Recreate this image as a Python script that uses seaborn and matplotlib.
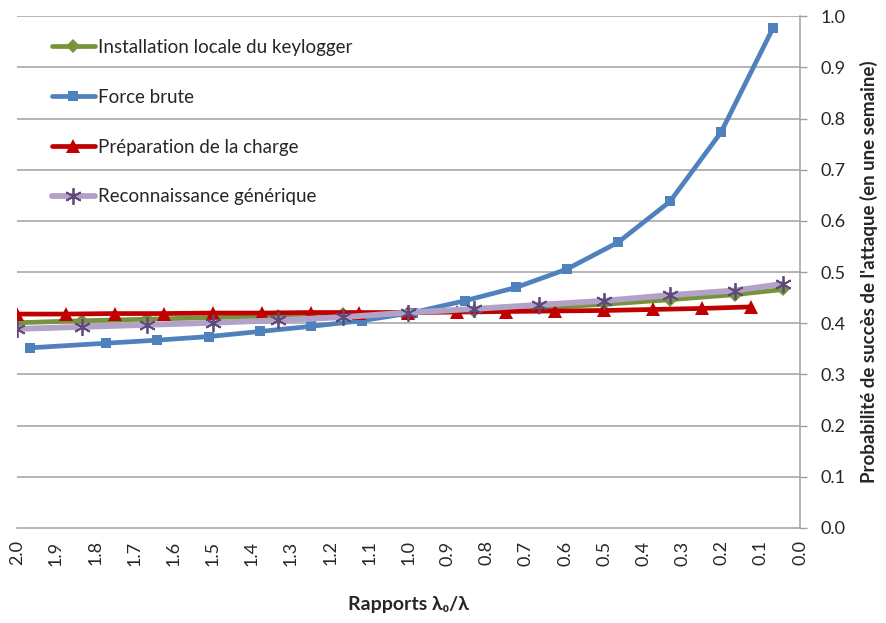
import numpy as np
import pandas as pd
import matplotlib as mpl
mpl.use("Agg")
import matplotlib.pyplot as plt
import seaborn as sns

# series
keylogger_x = [2.0, 1.833, 1.667, 1.5, 1.333, 1.167, 1.0, 0.833, 0.667, 0.5, 0.333, 0.167, 0.043]
keylogger_y = [0.401, 0.405, 0.408, 0.411, 0.414, 0.418, 0.421, 0.424, 0.430, 0.437, 0.446, 0.456, 0.466]

brute_x = [1.967, 1.773, 1.642, 1.510, 1.379, 1.249, 1.119, 0.988, 0.856, 0.725, 0.595, 0.465, 0.332, 0.202, 0.069]
brute_y = [0.352, 0.361, 0.367, 0.374, 0.384, 0.394, 0.405, 0.421, 0.444, 0.470, 0.506, 0.558, 0.638, 0.773, 0.977]

charge_x = [2.0, 1.875, 1.75, 1.625, 1.5, 1.375, 1.25, 1.125, 1.0, 0.875, 0.75, 0.625, 0.5, 0.375, 0.25, 0.125]
charge_y = [0.418, 0.418, 0.419, 0.419, 0.420, 0.420, 0.421, 0.421, 0.421, 0.422, 0.423, 0.424, 0.425, 0.427, 0.429, 0.432]

recon_x = [2.0, 1.833, 1.667, 1.5, 1.333, 1.167, 1.0, 0.833, 0.667, 0.5, 0.333, 0.167, 0.043]
recon_y = [0.389, 0.393, 0.397, 0.401, 0.406, 0.412, 0.421, 0.428, 0.436, 0.444, 0.455, 0.464, 0.477]

labels = ["Installation locale du keylogger", "Force brute",
          "Préparation de la charge", "Reconnaissance générique"]

x_ticks = [2.0, 1.9, 1.8, 1.7, 1.6, 1.5, 1.4, 1.3, 1.2, 1.1, 1.0,
           0.9, 0.8, 0.7, 0.6, 0.5, 0.4, 0.3, 0.2, 0.1, 0.0]
y_ticks = [0.0, 0.1, 0.2, 0.3, 0.4, 0.5, 0.6, 0.7, 0.8, 0.9, 1.0]

sns.set_style("white")
plt.rcParams['font.family'] = ['Lato', 'DejaVu Sans']

fig = plt.figure(figsize=(8.86, 6.23), dpi=100)
ax = fig.add_axes([0.019, 0.1525, 0.884, 0.8215])

grid_col = "#A0A0A0"
for yt in y_ticks[1:]:
    ax.axhline(yt, color=grid_col, lw=1.1, zorder=0)

sns.lineplot(x=brute_x, y=brute_y, ax=ax, sort=False, color="#4F81BD",
             lw=3.4, marker="s", markersize=7.5, markeredgewidth=0,
             label=labels[1], zorder=3)
sns.lineplot(x=keylogger_x, y=keylogger_y, ax=ax, sort=False, color="#77933C",
             lw=3.4, marker="D", markersize=7, markeredgewidth=0,
             label=labels[0], zorder=4)
sns.lineplot(x=charge_x, y=charge_y, ax=ax, sort=False, color="#C00000",
             lw=3.4, marker="^", markersize=10.5, markeredgewidth=0,
             label=labels[2], zorder=5)
sns.lineplot(x=recon_x, y=recon_y, ax=ax, sort=False, color="#B3A2C7",
             lw=4.2, marker=(6, 2, 0), markersize=12, markeredgewidth=1.3,
             markeredgecolor="#604A7B", label=labels[3], zorder=6)

ax.set_xlim(2.0, 0.0)
ax.set_ylim(0.0, 1.0)
ax.set_xticks(x_ticks)
ax.set_xticklabels([f"{v:.1f}" for v in x_ticks], rotation=90, fontsize=13)
ax.yaxis.tick_right()
ax.yaxis.set_label_position("right")
ax.set_yticks(y_ticks)
ax.set_yticklabels([f"{v:.1f}" for v in y_ticks], fontsize=13)
ax.tick_params(axis="both", direction="out", length=5, width=1, color=grid_col, pad=4)
ax.tick_params(axis="y", pad=10)

for side in ["top", "left"]:
    ax.spines[side].set_visible(False)
for side in ["bottom", "right"]:
    ax.spines[side].set_color(grid_col)
    ax.spines[side].set_linewidth(1.1)

ax.set_xlabel("Rapports λ₀/λ", fontsize=14, fontweight="bold", labelpad=22)
ax.set_ylabel("Probabilité de succès de l'attaque (en une semaine)",
              fontsize=13.5, fontweight="bold", labelpad=10)

handles, labs = ax.get_legend_handles_labels()
order = [labs.index(l) for l in labels]
ax.legend([handles[i] for i in order], [labs[i] for i in order],
          loc="upper left", bbox_to_anchor=(0.035, 0.97), frameon=False,
          fontsize=13.5, labelspacing=1.75, handlelength=2.3,
          handletextpad=0.15, borderaxespad=0)

fig.savefig("out.png", dpi=100)
